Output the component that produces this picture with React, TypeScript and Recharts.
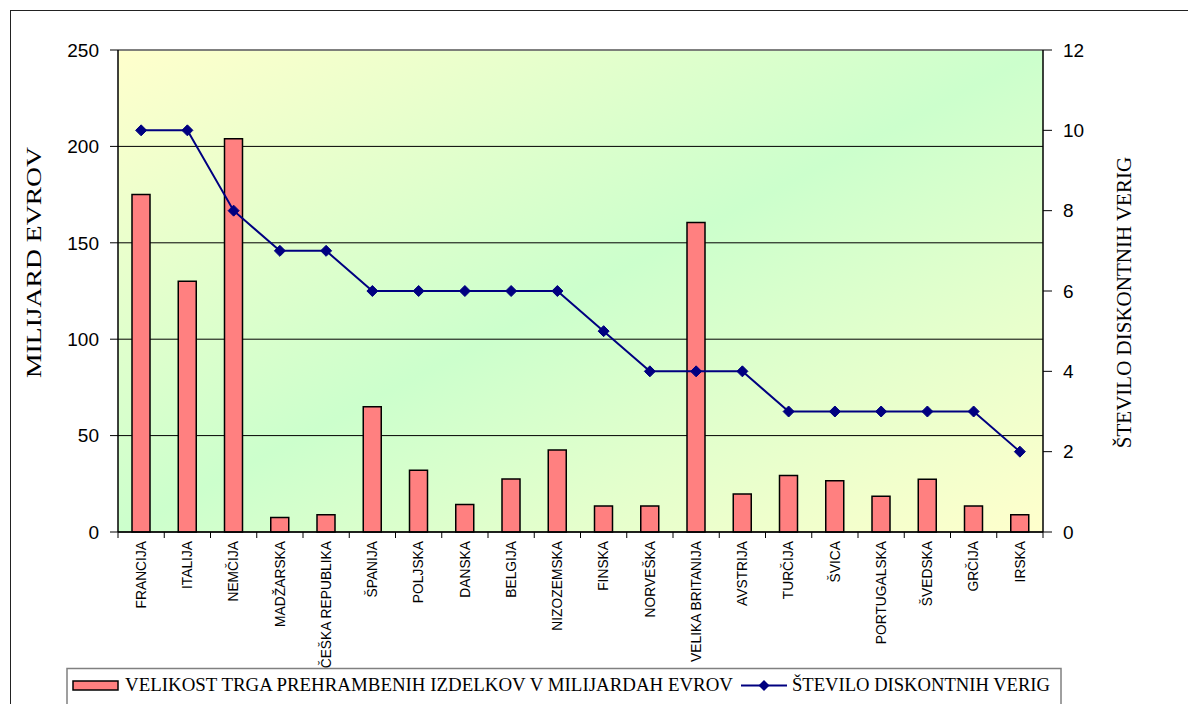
import React from "react";
import {
  ComposedChart, Bar, Line, XAxis, YAxis, CartesianGrid, ReferenceLine,
} from "recharts";

const countries = [
  "FRANCIJA", "ITALIJA", "NEMČIJA", "MADŽARSKA", "ČEŠKA REPUBLIKA", "ŠPANIJA",
  "POLJSKA", "DANSKA", "BELGIJA", "NIZOZEMSKA", "FINSKA", "NORVEŠKA",
  "VELIKA BRITANIJA", "AVSTRIJA", "TURČIJA", "ŠVICA", "PORTUGALSKA", "ŠVEDSKA",
  "GRČIJA", "IRSKA",
];
const marketSize = [
  175, 130, 204, 7.5, 9, 65, 32, 14.3, 27.5, 42.5, 13.5, 13.5,
  160.5, 19.7, 29.3, 26.6, 18.6, 27.4, 13.5, 9,
];
const discountChains = [10, 10, 8, 7, 7, 6, 6, 6, 6, 6, 5, 4, 4, 4, 3, 3, 3, 3, 3, 2];
const leftTicks = [0, 50, 100, 150, 200, 250];
const rightTicks = [0, 2, 4, 6, 8, 10, 12];

const barName = "VELIKOST TRGA PREHRAMBENIH IZDELKOV V MILIJARDAH EVROV";
const lineName = "ŠTEVILO DISKONTNIH VERIG";
const leftTitle = "MILIJARD EVROV";

const data = countries.map((c, i) => ({
  country: c,
  size: marketSize[i],
  chains: discountChains[i],
}));

const W = 1188;
const H = 704;
const band = (1043 - 118) / countries.length;
const serif = "'Liberation Serif', 'Times New Roman', serif";

function CountryTick(props: any) {
  const { x, y, payload, index } = props;
  const axisY = 532;
  return (
    <g>
      <line x1={x - band / 2} y1={axisY} x2={x - band / 2} y2={axisY + 6} stroke="#000" />
      {index === countries.length - 1 && (
        <line x1={x + band / 2} y1={axisY} x2={x + band / 2} y2={axisY + 6} stroke="#000" />
      )}
      <text
        x={x}
        y={y + 1}
        transform={`rotate(-90, ${x}, ${y + 1})`}
        textAnchor="end"
        dy="0.35em"
        fontFamily="'Liberation Sans', Arial, sans-serif"
        fontSize={13.8}
        fill="#000"
      >
        {payload.value}
      </text>
    </g>
  );
}

function Diamond(props: any) {
  const { cx, cy, index } = props;
  if (cx == null || cy == null) return <g key={index} />;
  const r = 5.5;
  return (
    <path
      key={index}
      d={`M${cx},${cy - r}L${cx + r},${cy}L${cx},${cy + r}L${cx - r},${cy}Z`}
      fill="#000080"
      stroke="#000080"
    />
  );
}

const tickStyle = { fill: "#000", fontSize: 19, fontFamily: "'Liberation Sans', Arial, sans-serif" };

export default function App() {
  return (
    <div style={{ position: "absolute", left: 0, top: 0, width: W, height: H, background: "#fff", overflow: "hidden" }}>
      <div
        style={{
          position: "absolute", left: 10, top: 10, width: 1200, height: 720,
          border: "1.5px solid #222", boxSizing: "border-box",
        }}
      />
      <div style={{ position: "absolute", left: 0, top: 0 }}>
        <ComposedChart
          width={W}
          height={H}
          data={data}
          margin={{ top: 50, right: 10, left: 10, bottom: 50 }}
        >
          <defs>
            <linearGradient id="plotBg" x1="0" y1="0" x2="1" y2="1">
              <stop offset="0%" stopColor="#FFFFCC" />
              <stop offset="50%" stopColor="#CCFFCC" />
              <stop offset="100%" stopColor="#FFFFCC" />
            </linearGradient>
          </defs>
          <CartesianGrid
            yAxisId="left"
            vertical={false}
            stroke="#000"
            strokeWidth={1}
            fill="url(#plotBg)"
            fillOpacity={1}
          />
          <ReferenceLine yAxisId="left" y={250} stroke="#808080" strokeWidth={1.5} />
          <XAxis
            dataKey="country"
            interval={0}
            height={122}
            tickLine={false}
            axisLine={{ stroke: "#000", strokeWidth: 1.5 }}
            tick={<CountryTick />}
          />
          <YAxis
            yAxisId="left"
            orientation="left"
            width={108}
            domain={[0, 250]}
            ticks={leftTicks}
            tick={tickStyle}
            tickSize={8}
            tickMargin={11}
            axisLine={{ stroke: "#000", strokeWidth: 1.5 }}
            tickLine={{ stroke: "#000" }}
            label={{
              content: () => (
                <text
                  x={34}
                  y={262.5}
                  transform="rotate(-90, 34, 262.5)"
                  textAnchor="middle"
                  dy="0.35em"
                  fontFamily={serif}
                  fontSize={21}
                  textLength={231}
                  lengthAdjust="spacingAndGlyphs"
                  fill="#000"
                >
                  {leftTitle}
                </text>
              ),
            }}
          />
          <YAxis
            yAxisId="right"
            orientation="right"
            width={135}
            domain={[0, 12]}
            ticks={rightTicks}
            tick={tickStyle}
            tickSize={9}
            tickMargin={11}
            axisLine={{ stroke: "#000", strokeWidth: 1.5 }}
            tickLine={{ stroke: "#000" }}
            label={{
              content: () => (
                <text
                  x={1124}
                  y={302.5}
                  transform="rotate(-90, 1124, 302.5)"
                  textAnchor="middle"
                  dy="0.35em"
                  fontFamily={serif}
                  fontSize={21}
                  fill="#000"
                >
                  {lineName}
                </text>
              ),
            }}
          />
          <Bar
            yAxisId="left"
            dataKey="size"
            name={barName}
            barSize={18}
            fill="#FF8080"
            stroke="#000"
            strokeWidth={1.5}
            isAnimationActive={false}
          />
          <Line
            yAxisId="right"
            type="linear"
            dataKey="chains"
            name={lineName}
            stroke="#000080"
            strokeWidth={2}
            dot={<Diamond />}
            activeDot={false}
            isAnimationActive={false}
          />
        </ComposedChart>
      </div>
      <svg
        width={W}
        height={H}
        style={{ position: "absolute", left: 0, top: 0, pointerEvents: "none" }}
      >
        <rect x={67} y={668.5} width={994} height={40} fill="#fff" stroke="#808080" strokeWidth={1.5} />
        <rect x={73} y={681} width={45} height={9} fill="#FF8080" stroke="#000" strokeWidth={1.5} />
        <text
          x={125} y={691} fontFamily={serif} fontSize={19} fill="#000"
          textLength={608} lengthAdjust="spacingAndGlyphs"
        >
          {barName}
        </text>
        <line x1={741} y1={685.5} x2={787} y2={685.5} stroke="#000080" strokeWidth={2} />
        <path d="M764,680L769.5,685.5L764,691L758.5,685.5Z" fill="#000080" />
        <text
          x={792} y={691} fontFamily={serif} fontSize={19} fill="#000"
          textLength={258} lengthAdjust="spacingAndGlyphs"
        >
          {lineName}
        </text>
      </svg>
    </div>
  );
}
